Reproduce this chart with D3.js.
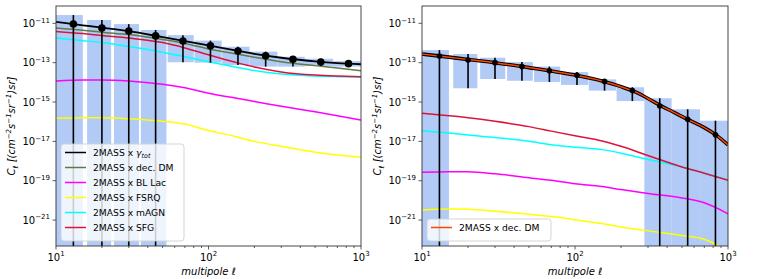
<!DOCTYPE html>
<html lang="en">
<head>
<meta charset="utf-8">
<title>2MASS cross-correlation</title>
<script src="https://cdn.jsdelivr.net/npm/d3@7"></script>
<style>
  body { margin: 0; background: #fff; }
  text { font-family: "DejaVu Sans", sans-serif; }
</style>
</head>
<body>
<script>
// multipole grid of the model curves
var ells = [10, 15, 20, 30, 50, 70, 100, 150, 200, 300, 500, 700, 1000];

// left panel models
var leftTot   = [1.175e-11, 7.94e-12, 6.03e-12, 3.98e-12, 2.0e-12, 1.26e-12, 7.59e-13, 4.17e-13, 2.82e-13, 1.78e-13, 1.17e-13, 9.55e-14, 8.3e-14];
var leftDM    = [5.75e-12, 4.47e-12, 3.55e-12, 2.69e-12, 1.51e-12, 9.55e-13, 5.01e-13, 2.82e-13, 1.91e-13, 1.12e-13, 7.08e-14, 5.37e-14, 3.89e-14];
var leftBLLac = [1.17e-14, 1.32e-14, 1.32e-14, 1.17e-14, 7.94e-15, 5.25e-15, 2.82e-15, 1.58e-15, 1.07e-15, 6.03e-16, 3.16e-16, 2.0e-16, 1.2e-16];
var leftFSRQ  = [1.48e-16, 1.58e-16, 1.58e-16, 1.41e-16, 1.05e-16, 7.59e-17, 3.55e-17, 1.78e-17, 1.0e-17, 5.62e-18, 2.82e-18, 2.0e-18, 1.55e-18];
var leftMAGN  = [1.78e-12, 1.32e-12, 1.05e-12, 6.61e-13, 3.39e-13, 2.0e-13, 1.12e-13, 6.03e-14, 3.98e-14, 2.63e-14, 2.09e-14, 1.95e-14, 1.86e-14];
var leftSFG   = [3.89e-12, 3.02e-12, 2.4e-12, 1.78e-12, 1.05e-12, 5.62e-13, 2.51e-13, 1.05e-13, 6.03e-14, 3.39e-14, 2.34e-14, 2.09e-14, 1.95e-14];

// right panel models
var rightDMElls = [10, 15, 20, 30, 50, 70, 100, 150, 200, 250, 300, 350, 450, 550, 700, 850, 1000];
var rightDM     = [2.75e-13, 1.91e-13, 1.45e-13, 1.0e-13, 5.62e-14, 3.8e-14, 2.34e-14, 1.17e-14, 6.03e-15, 3.16e-15, 1.51e-15, 7.59e-16, 2.82e-16, 1.26e-16, 5.01e-17, 1.91e-17, 6.61e-18];
var rightBLLac = [2.69e-19, 2.88e-19, 2.82e-19, 2.24e-19, 1.41e-19, 1.05e-19, 7.08e-20, 5.01e-20, 3.55e-20, 2.24e-20, 1.32e-20, 7.59e-21, 2.09e-21];
var rightFSRQ  = [3.24e-21, 3.63e-21, 3.55e-21, 2.82e-21, 2.0e-21, 1.51e-21, 1.05e-21, 6.61e-22, 4.47e-22, 2.82e-22, 1.66e-22, 1.05e-22, 2.51e-23];
var rightMAGN  = [3.47e-17, 2.63e-17, 2.09e-17, 1.58e-17, 1.0e-17, 6.76e-18, 5.01e-18, 3.8e-18, 2.51e-18, 1.2e-18, 5.01e-19, 2.51e-19, 1.12e-19];
var rightSFG   = [2.69e-16, 2.0e-16, 1.58e-16, 1.05e-16, 5.62e-17, 3.31e-17, 1.91e-17, 1.05e-17, 5.62e-18, 1.91e-18, 5.01e-19, 2.4e-19, 1.05e-19];

// binned measurements (bins are the same in both panels)
var binLo  = [10, 16, 24, 36, 54, 81, 123, 187, 284, 429, 657];
var binHi  = [15, 23, 35, 53, 80, 122, 186, 283, 428, 656, 1000];
var binEll = [13, 20, 30, 45, 68, 103, 156, 237, 358, 545, 828];

var leftC    = [9.12e-12, 5.75e-12, 4.07e-12, 2.29e-12, 1.26e-12, 7.24e-13, 3.89e-13, 2.24e-13, 1.48e-13, 1.07e-13, 8.91e-14];
var leftUp   = [2.63e-11, 1.48e-11, 9.12e-12, 4.57e-12, 2.51e-12, 1.32e-12, 6.46e-13, 3.63e-13, 2.0e-13, 1.58e-13, 1.2e-13];
var leftDown = [0, 0, 0, 0, 1.05e-13, 1.0e-13, 7.59e-14, 6.31e-14, 6.31e-14, 6.76e-14, 6.31e-14];

var rightC    = [2.19e-13, 1.35e-13, 1.0e-13, 6.31e-14, 3.89e-14, 2.29e-14, 1.12e-14, 3.8e-15, 6.31e-16, 1.32e-16, 2.14e-17];
var rightUp   = [4.37e-13, 2.75e-13, 1.78e-13, 1.07e-13, 6.31e-14, 3.31e-14, 1.41e-14, 5.62e-15, 1.55e-15, 4.27e-16, 1.12e-16];
var rightDown = [0, 5.01e-15, 1.48e-14, 1.2e-14, 1.05e-14, 7.41e-15, 3.8e-15, 1.12e-15, 0, 0, 0];

var yTicks = [1e-11, 1e-13, 1e-15, 1e-17, 1e-19, 1e-21];
var yTickExp = ["\u221211", "\u221213", "\u221215", "\u221217", "\u221219", "\u221221"];
var xTicks = [10, 100, 1000];
var xTickExp = ["1", "2", "3"];

var W = 758, H = 279;
var plotTop = 6, plotBot = 246;
var yMin = 4.8e-23, yMax = 7.6e-11;
var boxColor = "rgba(100,149,237,0.5)";

var svg = d3.select("body").append("svg")
    .attr("width", W).attr("height", H);

// little helper for text with super/subscripts
function rich(sel, parts, size) {
    var shift = 0;
    parts.forEach(function(p) {
        var t = p[0], m = p[1] || "n", it = p[2];
        var target = m == "sup" ? -size * 0.42 : (m == "sub" ? size * 0.28 : 0);
        var ts = sel.append("tspan")
            .attr("dy", target - shift)
            .attr("font-size", m == "n" ? size : size * 0.7)
            .text(t);
        if (it) ts.attr("font-style", "italic");
        shift = target;
    });
}

function panel(id, x0, x1, curves, pts, up, down, legendItems, legendW) {
    var x = d3.scaleLog().domain([10, 1000]).range([x0, x1]);
    var y = d3.scaleLog().domain([yMin, yMax]).range([plotBot, plotTop]);
    var clamp = function(v) { return y(Math.max(v, yMin)); };

    var g = svg.append("g");
    svg.append("clipPath").attr("id", "clip" + id)
        .append("rect").attr("x", x0).attr("y", plotTop)
        .attr("width", x1 - x0).attr("height", plotBot - plotTop);
    var plot = g.append("g").attr("clip-path", "url(#clip" + id + ")");

    // boxes
    plot.selectAll("rect.box").data(binLo).enter().append("rect")
        .attr("class", "box")
        .attr("x", function(d, i) { return x(binLo[i]); })
        .attr("width", function(d, i) { return x(binHi[i]) - x(binLo[i]); })
        .attr("y", function(d, i) { return y(up[i]); })
        .attr("height", function(d, i) { return clamp(down[i]) - y(up[i]); })
        .attr("fill", boxColor);

    // model curves
    curves.forEach(function(c) {
        var line = d3.line()
            .x(function(d) { return x(d[0]); })
            .y(function(d) { return y(d[1]); })
            .curve(d3.curveMonotoneX);
        plot.append("path")
            .attr("d", line(d3.zip(c.ell, c.val)))
            .attr("fill", "none")
            .attr("stroke", c.color)
            .attr("stroke-width", c.width);
    });

    // error bars + points
    plot.selectAll("line.err").data(binEll).enter().append("line")
        .attr("x1", function(d) { return x(d); })
        .attr("x2", function(d) { return x(d); })
        .attr("y1", function(d, i) { return y(up[i]); })
        .attr("y2", function(d, i) { return clamp(down[i]); })
        .attr("stroke", "#000").attr("stroke-width", 1.6);
    plot.selectAll("circle.pt").data(binEll).enter().append("circle")
        .attr("cx", function(d) { return x(d); })
        .attr("cy", function(d, i) { return y(pts[i]); })
        .attr("r", pts.r)
        .attr("fill", "#000");

    // axes
    var minor = [];
    [10, 100].forEach(function(b) { for (var k = 2; k < 10; k++) minor.push(b * k); });
    g.selectAll("line.mx").data(minor).enter().append("line")
        .attr("x1", function(d) { return x(d); }).attr("x2", function(d) { return x(d); })
        .attr("y1", plotBot).attr("y2", plotBot + 2)
        .attr("stroke", "#333").attr("stroke-width", 0.8);
    xTicks.forEach(function(v, i) {
        g.append("line").attr("x1", x(v)).attr("x2", x(v))
            .attr("y1", plotBot).attr("y2", plotBot + 3.5)
            .attr("stroke", "#333").attr("stroke-width", 0.8);
        var t = g.append("text").attr("x", x(v)).attr("y", plotBot + 14.5)
            .attr("text-anchor", "middle").attr("fill", "#000");
        rich(t, [["10"], [xTickExp[i], "sup"]], 10);
    });
    yTicks.forEach(function(v, i) {
        g.append("line").attr("x1", x0 - 3.5).attr("x2", x0)
            .attr("y1", y(v)).attr("y2", y(v))
            .attr("stroke", "#333").attr("stroke-width", 0.8);
        var t = g.append("text").attr("x", x0 - 6).attr("y", y(v) + 3.5)
            .attr("text-anchor", "end").attr("fill", "#000");
        rich(t, [["10"], [yTickExp[i], "sup"]], 10);
    });
    g.append("rect").attr("x", x0).attr("y", plotTop)
        .attr("width", x1 - x0).attr("height", plotBot - plotTop)
        .attr("fill", "none").attr("stroke", "#333").attr("stroke-width", 0.9);

    // axis labels
    g.append("text").attr("x", (x0 + x1) / 2).attr("y", 275)
        .attr("text-anchor", "middle").attr("font-style", "italic").attr("font-size", 10)
        .text("multipole \u2113");
    var yl = g.append("text")
        .attr("transform", "translate(" + (x0 - 41) + "," + ((plotTop + plotBot) / 2) + ") rotate(-90)")
        .attr("text-anchor", "middle").attr("font-style", "italic");
    rich(yl, [["C"], ["\u2113", "sub"], [" [(cm"], ["\u22122", "sup"], ["s"], ["\u22121", "sup"], ["sr"], ["\u22121", "sup"], [")sr]"]], 10);

    // legend
    var rowH = 15, lx = x0 + 5;
    var lh = legendItems.length * rowH + 7;
    var ly = plotBot - 5 - lh;
    var leg = g.append("g");
    leg.append("rect").attr("x", lx).attr("y", ly)
        .attr("width", legendW).attr("height", lh)
        .attr("rx", 3)
        .attr("fill", "rgba(255,255,255,0.8)")
        .attr("stroke", "#d0d0d0").attr("stroke-width", 0.9);
    legendItems.forEach(function(it, i) {
        var cy = ly + 8.5 + i * rowH;
        leg.append("line").attr("x1", lx + 4).attr("x2", lx + 25)
            .attr("y1", cy).attr("y2", cy)
            .attr("stroke", it.color).attr("stroke-width", 1.5);
        var t = leg.append("text").attr("x", lx + 32).attr("y", cy + 3.3).attr("fill", "#000");
        rich(t, it.parts, 9.2);
    });
}

var olive = "#5f7a42", crimson = "#dc143c";

var lpts = leftC.slice(); lpts.r = 3.8;
panel("L", 56, 361, [
    { ell: ells, val: leftFSRQ,  color: "#ffff00", width: 1.5 },
    { ell: ells, val: leftBLLac, color: "#ff00ff", width: 1.5 },
    { ell: ells, val: leftMAGN,  color: "#00ffff", width: 1.5 },
    { ell: ells, val: leftSFG,   color: crimson,   width: 1.5 },
    { ell: ells, val: leftDM,    color: olive,     width: 1.5 },
    { ell: ells, val: leftTot,   color: "#000",    width: 1.8 }
], lpts, leftUp, leftDown, [
    { color: "#000",    parts: [["2MASS x "], ["\u03b3", "n", true], ["tot", "sub", true]] },
    { color: olive,     parts: [["2MASS x dec. DM"]] },
    { color: "#ff00ff", parts: [["2MASS x BL Lac"]] },
    { color: "#ffff00", parts: [["2MASS x FSRQ"]] },
    { color: "#00ffff", parts: [["2MASS x mAGN"]] },
    { color: crimson,   parts: [["2MASS x SFG"]] }
], 123);

var rpts = rightC.slice(); rpts.r = 2.8;
panel("R", 422, 728, [
    { ell: ells, val: rightFSRQ,  color: "#ffff00", width: 1.5 },
    { ell: ells, val: rightBLLac, color: "#ff00ff", width: 1.5 },
    { ell: ells, val: rightMAGN,  color: "#00ffff", width: 1.5 },
    { ell: ells, val: rightSFG,   color: crimson,   width: 1.5 },
    { ell: rightDMElls, val: rightDM, color: "#000",    width: 3.6 },
    { ell: rightDMElls, val: rightDM, color: "#ff4500", width: 1.5 }
], rpts, rightUp, rightDown, [
    { color: "#ff4500", parts: [["2MASS x dec. DM"]] }
], 124);
</script>
</body>
</html>
